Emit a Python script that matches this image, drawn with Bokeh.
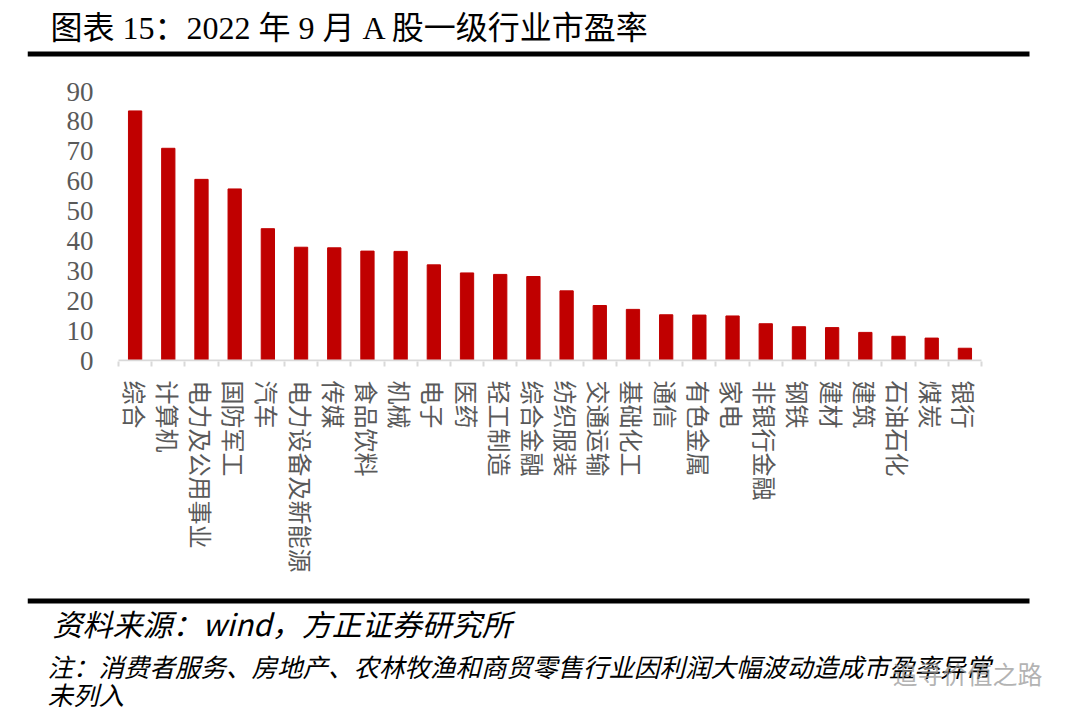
from bokeh.plotting import figure
from bokeh.models import Range1d, FixedTicker, ColumnDataSource
from bokeh.layouts import column
from bokeh.embed import file_html
from bokeh.resources import INLINE
from bokeh.core.properties import value

# ---------------- data ----------------
title_text = "图表 15：2022 年 9 月 A 股一级行业市盈率"
source_text = "资料来源：wind，方正证券研究所"
note_line1 = "注：消费者服务、房地产、农林牧渔和商贸零售行业因利润大幅波动造成市盈率异常"
note_line2 = "未列入"
watermark = "追寻价值之路"

industries = ["综合", "计算机", "电力及公用事业", "国防军工", "汽车", "电力设备及新能源",
              "传媒", "食品饮料", "机械", "电子", "医药", "轻工制造", "综合金融",
              "纺织服装", "交通运输", "基础化工", "通信", "有色金属", "家电", "非银行金融",
              "钢铁", "建材", "建筑", "石油石化", "煤炭", "银行"]
pe = [83.5, 71.0, 60.6, 57.4, 44.1, 37.9, 37.7, 36.6, 36.5, 32.0, 29.3, 28.8, 28.1,
      23.3, 18.4, 17.1, 15.3, 15.2, 14.9, 12.3, 11.3, 11.0, 9.4, 8.1, 7.5, 4.1]
y_ticks = [0, 10, 20, 30, 40, 50, 60, 70, 80, 90]

# ---------------- geometry / style ----------------
W = 1064
MAIN_H, FOOT_H = 590, 125
FL, FR = 27, 1053                 # frame left / right (pixels)
FB = 361                          # main frame bottom (pixels)
CAT_L, CAT_R = 118, 981           # pixel span of the category axis
ZERO_PX, TOP_PX = 360, 91         # pixel rows of value 0 and value 90
CJK = "'Noto Sans CJK SC'"
SERIF = "'Liberation Serif', 'Noto Sans CJK SC'"
BAR = "#C00000"
GREY = "#D9D9D9"
LABEL = "#595959"

n = len(industries)
idx = list(range(n))
ppu_x = (CAT_R - CAT_L) / n
XS = -0.5 - (CAT_L - FL) / ppu_x
XE = (n - 0.5) + (FR - CAT_R) / ppu_x
ppu_y = (ZERO_PX - TOP_PX) / 90.0
YS = -(FB - ZERO_PX) / ppu_y
YE = ZERO_PX / ppu_y


def fx(px):
    return XS + (px - FL) / ppu_x


def fy(py):
    return YS + (FB - py) / ppu_y


src = ColumnDataSource(dict(x=idx, pe=pe, name=industries))

p = figure(width=W, height=MAIN_H, x_range=Range1d(XS, XE), y_range=Range1d(YS, YE),
           output_backend="svg", toolbar_location=None,
           min_border_left=FL, min_border_right=W - FR, min_border_top=0,
           min_border_bottom=MAIN_H - FB)
p.grid.visible = False
p.outline_line_color = None
p.background_fill_color = "white"
p.border_fill_color = "white"

p.vbar(x="x", top="pe", bottom=0, width=0.4, source=src,
       fill_color=BAR, line_color=BAR)
# category axis baseline
p.segment(x0=[-0.5], y0=[0], x1=[n - 0.5], y1=[0], line_color=GREY, line_width=2)

xa = p.xaxis[0]
xa.ticker = FixedTicker(ticks=idx, minor_ticks=[i - 0.5 for i in range(n + 1)])
xa.major_label_overrides = {i: name for i, name in enumerate(industries)}
xa.axis_line_color = None
xa.major_tick_out = 0
xa.major_tick_in = 0
xa.minor_tick_out = 5
xa.minor_tick_in = 0
xa.minor_tick_line_color = GREY
xa.minor_tick_line_width = 2
xa.major_label_orientation = "vertical"
xa.major_label_standoff = 14
xa.major_label_text_font = CJK
xa.major_label_text_font_size = "24px"
xa.major_label_text_color = LABEL

ya = p.yaxis[0]
ya.ticker = FixedTicker(ticks=y_ticks)
ya.axis_line_color = None
ya.major_tick_line_color = None
ya.minor_tick_line_color = None
ya.major_tick_out = 0
ya.major_tick_in = 0
ya.major_label_standoff = -66
ya.major_label_text_font = SERIF
ya.major_label_text_font_size = "27px"
ya.major_label_text_color = LABEL

# title + top rule
p.text(x=[fx(50)], y=[fy(27.5)], text=[title_text], text_font=value(SERIF),
       text_font_size="32px", text_color="black", text_baseline="middle", text_align="left")
p.segment(x0=[fx(27)], y0=[fy(53.5)], x1=[fx(1029)], y1=[fy(53.5)],
          line_color="black", line_width=5)

# ---------------- footer ----------------
foot = figure(width=W, height=FOOT_H, x_range=Range1d(FL, FR), y_range=Range1d(FOOT_H, 0),
              output_backend="svg", toolbar_location=None, x_axis_type=None, y_axis_type=None,
              min_border_left=FL, min_border_right=W - FR, min_border_top=0, min_border_bottom=0)
foot.grid.visible = False
foot.outline_line_color = None
foot.background_fill_color = "white"
foot.border_fill_color = "white"

foot.segment(x0=[27], y0=[10.5], x1=[1029], y1=[10.5], line_color="black", line_width=5)
foot.text(x=[52], y=[32], text=[source_text], text_font=value(CJK),
          text_font_size="30px", text_font_style="italic", text_color="black",
          text_baseline="middle", text_align="left")
foot.text(x=[47], y=[75], text=[note_line1], text_font=value(CJK),
          text_font_size="25.5px", text_font_style="italic", text_color="black",
          text_baseline="middle", text_align="left")
foot.text(x=[47], y=[103], text=[note_line2], text_font=value(CJK),
          text_font_size="25.5px", text_font_style="italic", text_color="black",
          text_baseline="middle", text_align="left")
foot.text(x=[892], y=[82], text=[watermark], text_font=value(CJK),
          text_font_size="25px", text_color="#9a9a9a", text_alpha=0.75,
          text_baseline="middle", text_align="left")

layout = column(p, foot, spacing=0)
open("out.html", "w").write(file_html(layout, INLINE))
